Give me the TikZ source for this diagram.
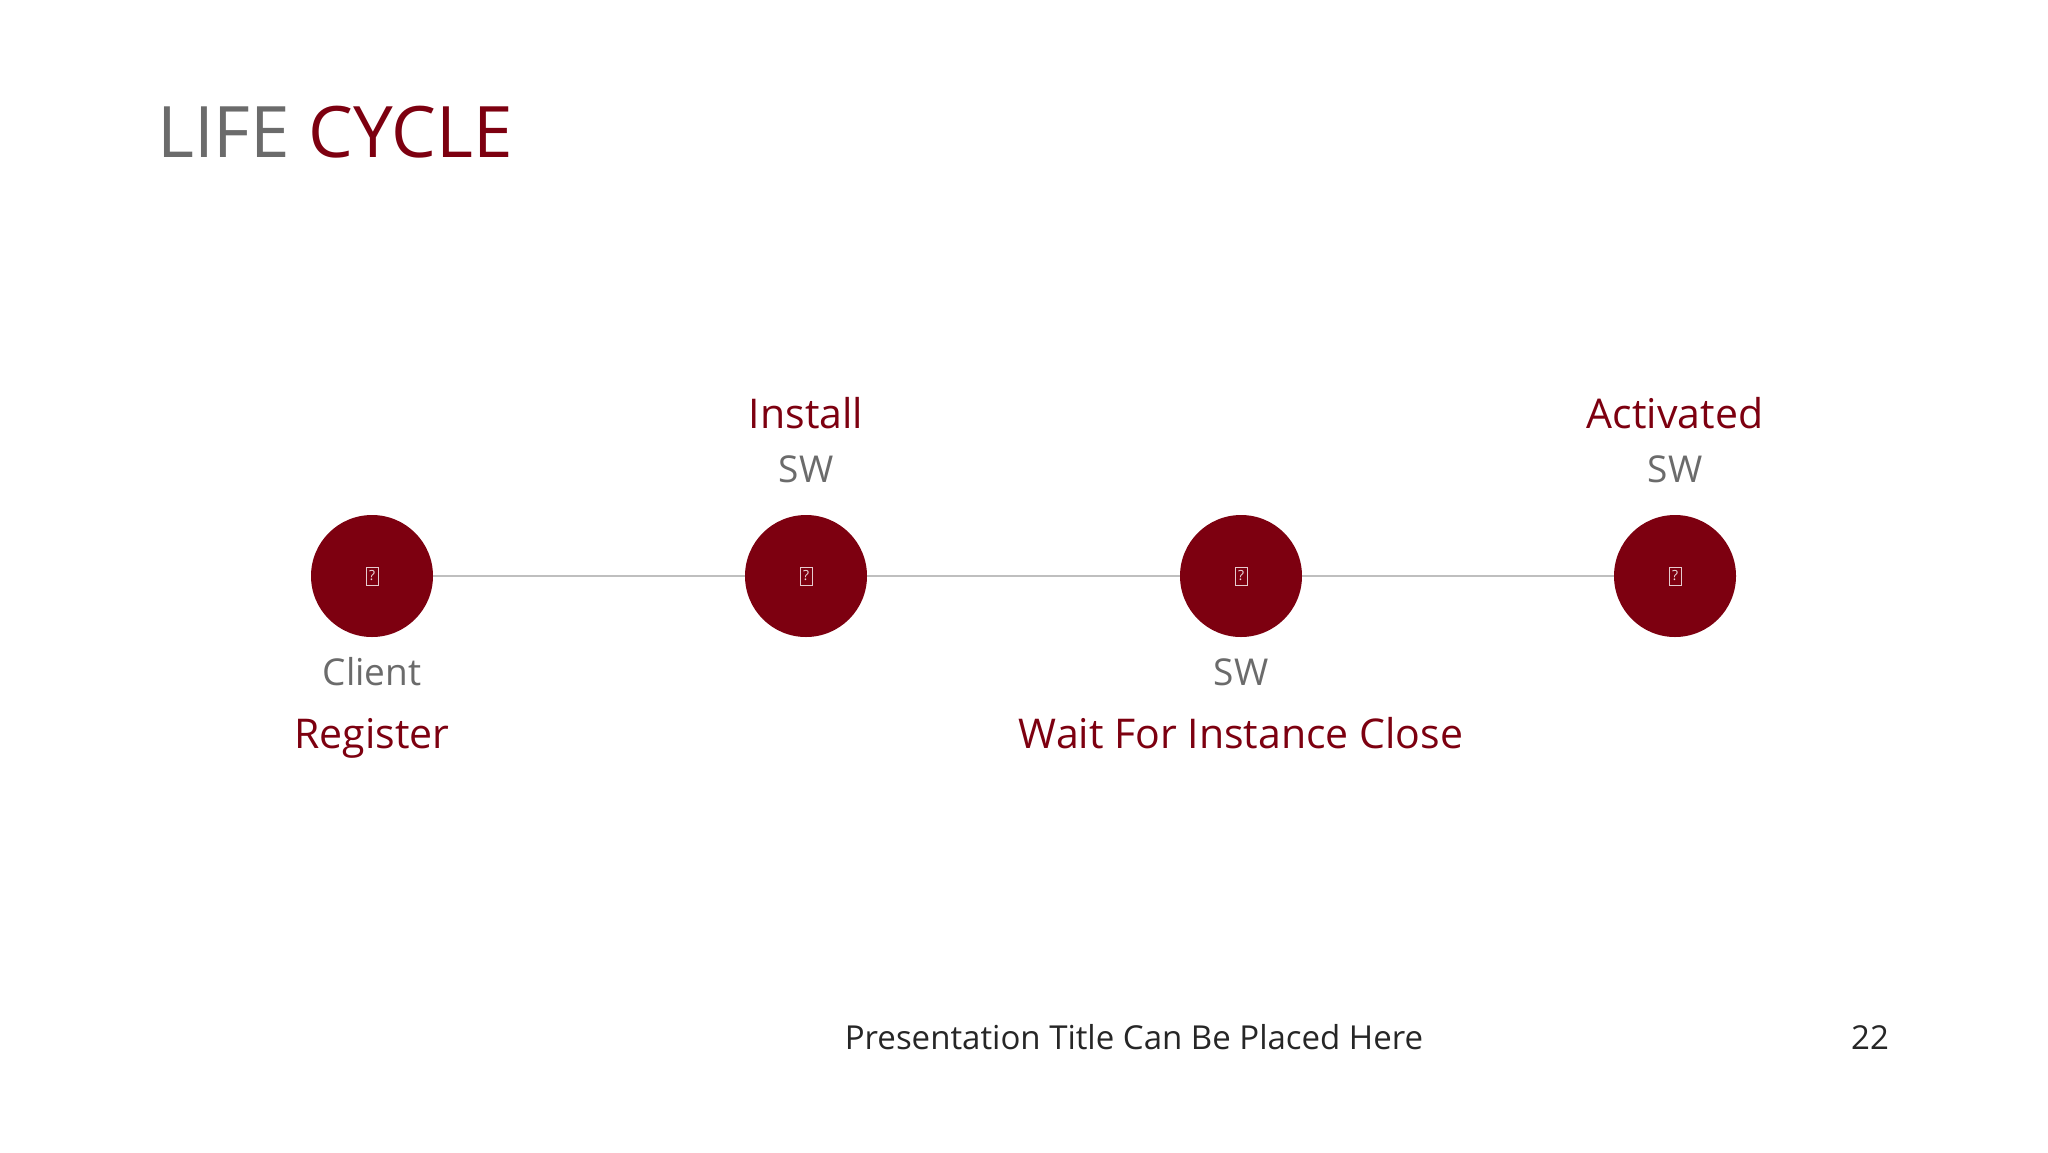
\documentclass[tikz,border=0pt]{standalone}
\usepackage{fontspec}
\setmainfont{Open Sans}
\definecolor{cred}{HTML}{7D0010}
\definecolor{cgray}{HTML}{6B6B6B}
\definecolor{cline}{HTML}{BFBFBF}
\definecolor{cfoot}{HTML}{262626}
\begin{document}
\begin{tikzpicture}[x=1pt,y=-1pt,
  stage/.style={circle,fill=cred,minimum size=122pt,inner sep=0pt},
  glyph/.style={draw=white!80!cred,line width=1pt,inner sep=1pt,text=white!85!cred,font=\fontsize{14}{14}\selectfont,minimum width=12pt,minimum height=18pt},
  head/.style={anchor=base,text=cred,font=\fontsize{41}{41}\selectfont},
  sub/.style={anchor=base,text=cgray,font=\fontsize{37}{37}\selectfont},
  link/.style={draw=cline,line width=1.5pt}]
\useasboundingbox (0,0) rectangle (2048,1152);
\fill[white] (0,0) rectangle (2048,1152);
\node[anchor=base west,inner sep=0pt,font=\fontsize{71}{71}\selectfont] (title) at (157,157) {\textcolor{cgray}{LIFE} \textcolor{cred}{CYCLE}};
\node[stage] (c1) at (372,576) {};
\node[stage] (c2) at (806,576) {};
\node[stage] (c3) at (1241,576) {};
\node[stage] (c4) at (1675,576) {};
\draw[link] (c1) -- (c2);
\draw[link] (c2) -- (c3);
\draw[link] (c3) -- (c4);
\foreach \n in {c1,c2,c3,c4} {\node[glyph] (g\n) at (\n) {?};}
\node[head] (t2) at (806,428) {Install};
\node[sub] (s2) at (806,482) {SW};
\node[head] (t4) at (1675,428) {Activated};
\node[sub] (s4) at (1675,482) {SW};
\node[sub] (s1) at (372,685) {Client};
\node[head] (t1) at (372,748) {Register};
\node[sub] (s3) at (1241,685) {SW};
\node[head] (t3) at (1241,748) {Wait For Instance Close};
\node[anchor=base,text=cfoot,font=\fontsize{33}{33}\selectfont] (foot) at (1134,1049) {Presentation Title Can Be Placed Here};
\node[anchor=base,text=cfoot,font=\fontsize{33}{33}\selectfont] (page) at (1870,1049) {22};
\end{tikzpicture}
\end{document}
